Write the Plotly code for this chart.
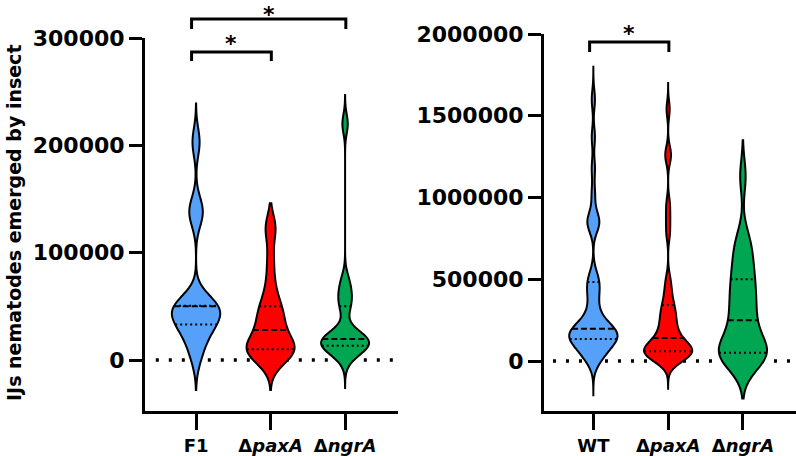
import numpy as np
import plotly.graph_objects as go

# ---------------- data ----------------
left_categories = ["F1", "ΔpaxA", "ΔngrA"]
left_ticktext = ["<b>F1</b>", "<b>Δ<i>paxA</i></b>", "<b>Δ<i>ngrA</i></b>"]
right_categories = ["WT", "ΔpaxA", "ΔngrA"]
right_ticktext = ["<b>WT</b>", "<b>Δ<i>paxA</i></b>", "<b>Δ<i>ngrA</i></b>"]

f1_values = [4000, 19000, 28000, 33000, 38000, 44000, 50000, 50000, 50000, 50500,
             134000, 142000, 203000]
left_paxA_values = [1000, 3000, 6000, 8000, 9000, 10000, 11000, 13000, 15000, 20000,
                    28000, 31000, 36000, 42000, 48000, 50000, 60000, 75000, 95000,
                    121000, 125000]
left_ngrA_values = [2000, 9000, 12000, 12500, 13500, 16000, 17500, 19000, 20000, 22000,
                    27000, 48000, 56000, 64000, 74000, 220000]

wt_values = [0, 15000, 35000, 55000, 75000, 90000, 105000, 115000, 125000, 133000,
             137000, 144000, 152000, 160000, 168000, 176000, 184000, 190000, 195000,
             200000, 215000, 235000, 260000, 295000, 340000, 390000, 430000, 465000,
             490000, 530000, 820000, 845000, 855000, 880000, 1020000, 1180000,
             1370000, 1600000]
right_paxA_values = [2000, 8000, 15000, 22000, 30000, 38000, 45000, 52000, 57000, 59000,
                     64000, 70000, 76000, 82000, 88000, 95000, 105000, 118000, 135000,
                     147000, 165000, 185000, 205000, 230000, 250000, 275000, 300000,
                     320000, 350000, 390000, 440000, 500000, 780000, 870000, 960000,
                     1240000, 1280000, 1540000]
right_ngrA_values = [5000, 15000, 25000, 35000, 42000, 50000, 65000, 100000, 150000,
                     200000, 250000, 300000, 350000, 400000, 450000, 500000, 560000,
                     620000, 700000, 750000, 1130000]

left_bandwidths = [13000, 12000, 9000]
right_bandwidths = [60000, 50000, 100000]
left_spans = [[-28000, 239000], [-28000, 146000], [-26000, 247000]]
right_spans = [[-210000, 1800000], [-170000, 1700000], [-230000, 1350000]]

left_yticks = [0, 100000, 200000, 300000]
right_yticks = [0, 500000, 1000000, 1500000, 2000000]

# significance brackets: (from category index, to category index, label)
left_significance = [(0, 2, "*"), (0, 1, "*")]
right_significance = [(0, 1, "*")]

colors = ["#55A0F8", "#FF0000", "#00A651"]

# ---------------- layout constants ----------------
W, H = 796, 456
VW = 0.645
FONT = "DejaVu Sans"

left_xdomain = [145 / W, 398 / W]
right_xdomain = [544 / W, 796 / W]
left_ydomain = [45 / H, 418 / H]
right_ydomain = [45 / H, 422 / H]
left_xrange = [-0.685, 2.71]
right_xrange = [-0.66, 2.71]
left_yrange = [-47500, 300000]
right_yrange = [-305800, 2000000]


def kde(vals, bw, t):
    v = np.asarray(vals, float)
    return np.exp(-0.5 * ((t - v) / bw) ** 2).sum() / (len(v) * bw * np.sqrt(2 * np.pi))


def max_kde(vals, bw, span):
    dist = span[1] - span[0]
    n = int(np.ceil(dist / (bw / 3.0)))
    step = dist / n
    return max(kde(vals, bw, span[0] + k * step) for k in range(n + 1))


def cat_to_paper(idx, domain, rng):
    frac = (idx - rng[0]) / (rng[1] - rng[0])
    return domain[0] + frac * (domain[1] - domain[0])


fig = go.Figure()
shapes = []
annotations = []

panels = [
    (left_categories, [f1_values, left_paxA_values, left_ngrA_values], left_bandwidths,
     left_spans, "x", "y", "L"),
    (right_categories, [wt_values, right_paxA_values, right_ngrA_values], right_bandwidths,
     right_spans, "x2", "y2", "R"),
]

for cats, series, bws, spans, xa, ya, tag in panels:
    for i, (cat, vals, bw, span) in enumerate(zip(cats, series, bws, spans)):
        fig.add_trace(go.Violin(
            x=[cat] * len(vals), y=vals, xaxis=xa, yaxis=ya,
            width=VW, scalemode="width", scalegroup=f"{tag}{i}",
            bandwidth=bw, spanmode="manual", span=span,
            fillcolor=colors[i], line=dict(color="black", width=2), opacity=1,
            points=False, side="both", showlegend=False, hoverinfo="skip",
            box_visible=False, meanline_visible=False,
        ))
        mk = max_kde(vals, bw, span)
        q1, med, q3 = np.percentile(vals, [25, 50, 75])
        for q, dash in [(q1, "2px,3px"), (q3, "2px,3px"), (med, "6px,3px")]:
            hw = VW / 2 * kde(vals, bw, q) / mk
            shapes.append(dict(type="line", xref=xa, yref=ya, x0=i - hw, x1=i + hw,
                               y0=q, y1=q, layer="above",
                               line=dict(color="black", width=2, dash=dash)))
    # dotted zero line
    shapes.append(dict(type="line", xref=xa, yref=ya, x0=-0.54, x1=2.71, y0=0, y1=0,
                       layer="below", line=dict(color="black", width=3.5, dash="3px,10px")))


# brackets
def add_bracket(i, j, label, domain, rng, ytop_px, yleg_px, star_px, star_anchor, loff):
    x0 = cat_to_paper(i + loff, domain, rng)
    x1 = cat_to_paper(j + 0.01, domain, rng)
    yt = 1 - ytop_px / H
    yl = 1 - yleg_px / H
    shapes.append(dict(type="path", xref="paper", yref="paper",
                       path=f"M {x0},{yl} L {x0},{yt} L {x1},{yt} L {x1},{yl}",
                       line=dict(color="black", width=3)))
    annotations.append(dict(x=(x0 + x1) / 2, y=1 - star_px / H, xref="paper", yref="paper",
                            text=f"<b>{label}</b>", showarrow=False, xanchor="center",
                            yanchor=star_anchor,
                            font=dict(family=FONT, size=22, color="black")))


add_bracket(*left_significance[0], left_xdomain, left_xrange, 19, 29, 0, "top", -0.06)
add_bracket(*left_significance[1], left_xdomain, left_xrange, 52, 61, 44, "middle", -0.06)
add_bracket(*right_significance[0], right_xdomain, right_xrange, 42, 52, 33, "middle", -0.05)

annotations.append(dict(x=14 / W, y=1 - 223 / H, xref="paper", yref="paper",
                        text="<b>IJs nematodes emerged by insect</b>", textangle=-90,
                        showarrow=False, xanchor="center", yanchor="middle",
                        font=dict(family=FONT, size=19, color="black")))

axis_common = dict(showline=True, linewidth=3, linecolor="black", ticks="outside",
                   tickwidth=3, tickcolor="black", showgrid=False, zeroline=False,
                   automargin=False)
ytickfont = dict(family=FONT, size=22, color="black", weight="bold")
xtickfont = dict(family=FONT, size=18, color="black", weight="bold")

fig.update_layout(
    width=W, height=H, margin=dict(l=0, r=0, t=0, b=0, autoexpand=False),
    paper_bgcolor="white", plot_bgcolor="white", violinmode="overlay",
    xaxis=dict(domain=left_xdomain, range=left_xrange, type="category",
               categoryorder="array", categoryarray=left_categories,
               tickmode="array", tickvals=left_categories, ticktext=left_ticktext,
               anchor="y", ticklen=16, tickfont=xtickfont, **axis_common),
    yaxis=dict(domain=left_ydomain, range=left_yrange, anchor="x",
               tickmode="array", tickvals=left_yticks,
               ticktext=[str(v) for v in left_yticks], ticklen=13,
               tickfont=ytickfont, **axis_common),
    xaxis2=dict(domain=right_xdomain, range=right_xrange, type="category",
                categoryorder="array", categoryarray=right_categories,
                tickmode="array", tickvals=right_categories, ticktext=right_ticktext,
                anchor="y2", ticklen=16, tickfont=xtickfont, **axis_common),
    yaxis2=dict(domain=right_ydomain, range=right_yrange, anchor="x2",
                tickmode="array", tickvals=right_yticks,
                ticktext=[str(v) for v in right_yticks], ticklen=13,
                tickfont=ytickfont, **axis_common),
    shapes=shapes, annotations=annotations,
)

fig.write_html("out.html")
